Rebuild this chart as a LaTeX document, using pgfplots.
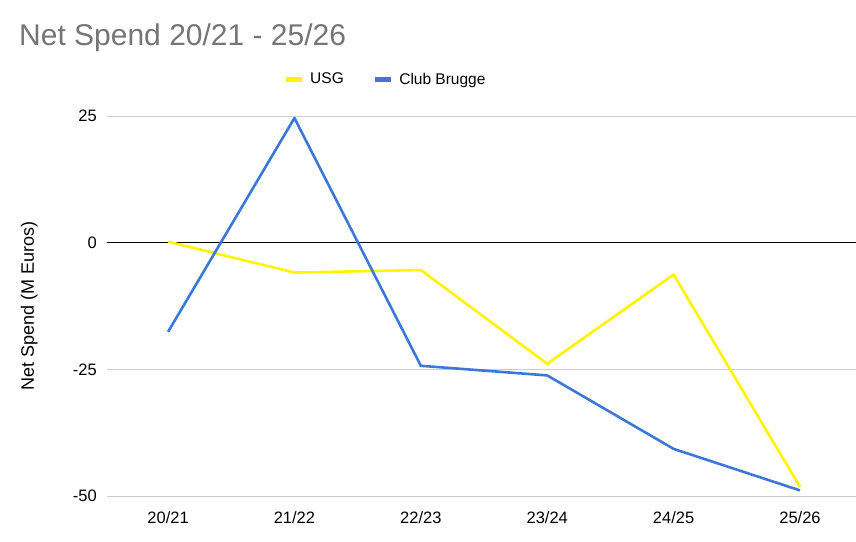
\documentclass[border=0pt]{standalone}
\usepackage{pgfplots}
\pgfplotsset{compat=1.18}
\usepackage{fontspec}
\setmainfont{Liberation Sans}
\definecolor{usg}{HTML}{FFF500}
\definecolor{cb}{HTML}{3C78D8}
\definecolor{gridc}{HTML}{CCCCCC}
\definecolor{titlec}{HTML}{757575}
\begin{document}
\begin{tikzpicture}[x=1pt,y=1pt]
\useasboundingbox (0,0) rectangle (856,541);
\node[anchor=west,text=titlec,font=\fontsize{30}{36}\selectfont,inner sep=0] at (19,503) {Net Spend 20/21 - 25/26};
\begin{axis}[
  at={(107pt,45pt)}, anchor=south west,
  scale only axis, width=749pt, height=380pt,
  xmin=-0.483, xmax=5.443, ymin=-50, ymax=25,
  xtick={0,1,2,3,4,5},
  xticklabels={20/21,21/22,22/23,23/24,24/25,25/26},
  ytick={-50,-25,25},
  extra y ticks={0},
  extra y tick style={grid style={black, line width=1pt}},
  ymajorgrids, grid style={gridc, line width=1pt},
  axis line style={draw=none},
  major tick length=0pt,
  tick label style={font=\fontsize{16.5}{20}\selectfont},
  /pgf/number format/assume math mode=true,
  yticklabel style={inner sep=0pt, xshift=-10pt},
  xticklabel style={inner sep=0pt, yshift=-15pt},
  ylabel={Net Spend (M Euros)},
  ylabel style={at={(axis description cs:-0.104,0.5)}, anchor=center, font=\fontsize{18}{22}\selectfont},
  legend style={at={(0.372,1.097)}, anchor=center, draw=none, legend columns=2, font=\fontsize{15.5}{19}\selectfont,
     /tikz/every even column/.append style={column sep=27pt}},
  legend cell align=left,
  legend image code/.code={\path[draw=none] (0pt,0pt) -- (22pt,0pt); \draw[line width=5pt] (0pt,0pt) -- (16pt,0pt);},
  clip=false,
]
\addplot[usg, line width=2.6pt, line join=round] coordinates {
 (0,0.2) (1,-5.9) (2,-5.4) (3,-23.9) (4,-6.3) (5,-48.2)};
\addlegendentry{USG}
\addplot[cb, line width=2.6pt, line join=round] coordinates {
 (0,-17.6) (1,24.6) (2,-24.3) (3,-26.2) (4,-40.7) (5,-48.9)};
\addlegendentry{Club Brugge}
\end{axis}
\end{tikzpicture}
\end{document}
